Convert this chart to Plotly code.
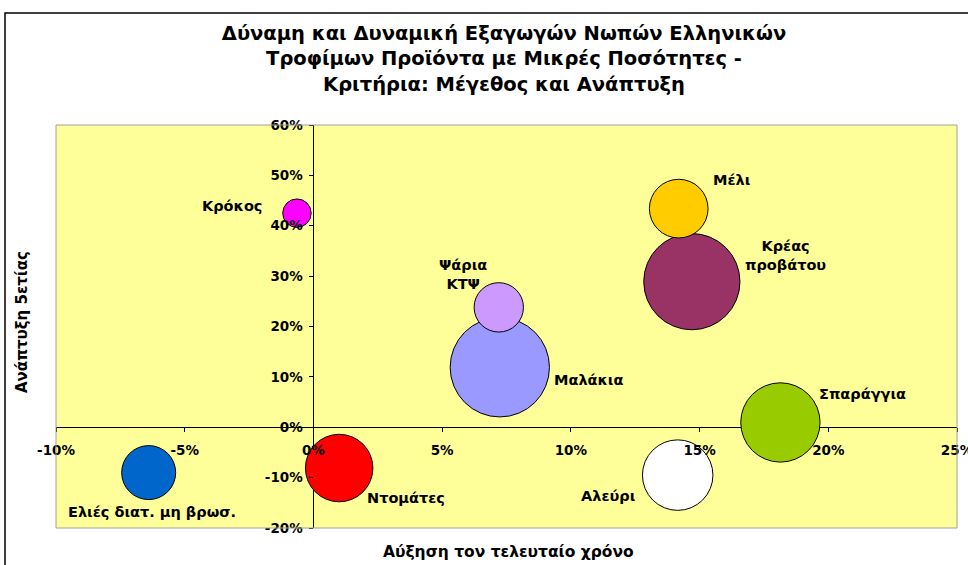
import plotly.graph_objects as go

# ---- data ----
products = ["Μαλάκια", "Κρέας<br>προβάτου", "Σπαράγγια", "Αλεύρι", "Ντομάτες",
            "Μέλι", "Ελιές διατ. μη βρωσ.", "Ψάρια<br>ΚΤΨ", "Κρόκος"]
growth_last_year = [0.0724, 0.147, 0.1814, 0.1415, 0.010, 0.1419, -0.064, 0.072, -0.0064]
growth_5yr = [0.119, 0.289, 0.0095, -0.095, -0.081, 0.434, -0.090, 0.238, 0.425]
bubble_size = [100, 93.9, 63.8, 50.4, 46.2, 34.9, 29.6, 24.7, 8.2]

x_ticks = [-0.10, -0.05, 0.0, 0.05, 0.10, 0.15, 0.20, 0.25]
y_ticks = [-0.20, -0.10, 0.0, 0.10, 0.20, 0.30, 0.40, 0.50, 0.60]

title_text = ("Δύναμη και Δυναμική Εξαγωγών Νωπών Ελληνικών<br>"
              "Τροφίμων Προϊόντα με Μικρές Ποσότητες -<br>"
              "Κριτήρια: Μέγεθος και Ανάπτυξη")
x_title = "Αύξηση τον τελευταίο χρόνο"
y_title = "Ανάπτυξη 5ετίας"

# ---- styles ----
colors = ["#9999FF", "#993366", "#99CC00", "#FFFFFF", "#FF0000",
          "#FFCC00", "#0066CC", "#CC99FF", "#FF00FF"]
# label offsets from bubble centre in px (dx right, dy down)
label_offsets = [(89, 13), (94, -26), (82, -28), (-69, 21), (67, 30),
                 (53, -29), (3, 39), (-36, -33), (-65, -7)]

FONT = "DejaVu Sans"
W, H = 968, 565
ML, MR, MT, MB = 56, 11, 125, 37
x_range = [x_ticks[0], x_ticks[-1]]
y_range = [y_ticks[0], y_ticks[-1]]
plot_w = W - ML - MR
plot_h = H - MT - MB

max_d = 99.3
sizeref = 2.0 * max(bubble_size) / (max_d ** 2)


def pct(v):
    return f"{v * 100:.0f}%"


fig = go.Figure()
fig.add_trace(go.Scatter(
    x=growth_last_year, y=growth_5yr, mode="markers",
    marker=dict(size=bubble_size, sizemode="area", sizeref=sizeref,
                color=colors, opacity=1,
                line=dict(color="black", width=1)),
    hoverinfo="skip", showlegend=False,
))

annotations = []
for name, xv, yv, (dx, dy) in zip(products, growth_last_year, growth_5yr, label_offsets):
    annotations.append(dict(
        x=xv, y=yv, xref="x", yref="y", text=name, showarrow=False,
        xanchor="center", yanchor="middle", xshift=dx, yshift=-dy,
        font=dict(family=FONT, size=14.5, color="black", weight="bold"),
    ))

# axis titles (placed outside the plot area as in the original)
annotations.append(dict(
    text=x_title, xref="paper", yref="paper", x=(508 - ML) / plot_w,
    y=(H - MB - 552) / plot_h, showarrow=False, xanchor="center", yanchor="middle",
    font=dict(family=FONT, size=15.5, color="black", weight="bold")))
annotations.append(dict(
    text=y_title, xref="paper", yref="paper", x=(22 - ML) / plot_w,
    y=(H - MB - 322) / plot_h, showarrow=False, xanchor="center", yanchor="middle",
    textangle=-90,
    font=dict(family=FONT, size=15, color="black", weight="bold")))

x_cross = (0 - y_range[0]) / (y_range[1] - y_range[0])
y_cross = (0 - x_range[0]) / (x_range[1] - x_range[0])

tickfont = dict(family=FONT, size=13.5, color="black", weight="bold")

fig.update_layout(
    width=W, height=H,
    margin=dict(l=ML, r=MR, t=MT, b=MB, autoexpand=False),
    paper_bgcolor="white", plot_bgcolor="#FFFF99",
    title=dict(text=title_text, x=(504 - ML) / plot_w, xref="paper", xanchor="center",
               y=1 - 40 / H, yref="container", yanchor="top",
               font=dict(family=FONT, size=19.5, color="black", weight="bold")),
    xaxis=dict(range=x_range, tickvals=x_ticks, ticktext=[pct(v) for v in x_ticks],
               anchor="free", position=x_cross, showgrid=False,
               zeroline=True, zerolinecolor="black", zerolinewidth=1,
               showline=False, ticks="outside", ticklen=4, tickcolor="black",
               tickfont=tickfont, ticklabelstandoff=7, ticklabeloverflow="allow",
               automargin=False, fixedrange=True),
    yaxis=dict(range=y_range, tickvals=y_ticks, ticktext=[pct(v) for v in y_ticks],
               anchor="free", position=y_cross, showgrid=False,
               zeroline=True, zerolinecolor="black", zerolinewidth=1,
               showline=False, ticks="outside", ticklen=4, tickcolor="black",
               tickfont=tickfont, ticklabelstandoff=4, ticklabeloverflow="allow",
               automargin=False, fixedrange=True),
    annotations=annotations,
    shapes=[
        dict(type="rect", xref="paper", yref="paper", x0=0, x1=1, y0=0, y1=1,
             line=dict(color="#A0A0A0", width=1), layer="above"),
        dict(type="rect", xref="paper", yref="paper",
             x0=(5 - ML) / plot_w, x1=(W + 10 - ML) / plot_w,
             y0=(H - MB - (H + 10)) / plot_h, y1=(H - MB - 13) / plot_h,
             line=dict(color="black", width=1.5), layer="above"),
    ],
)

fig.write_html("out.html", config={"displayModeBar": False},
               post_script="document.body.style.margin='0';document.body.style.overflow='hidden';")
